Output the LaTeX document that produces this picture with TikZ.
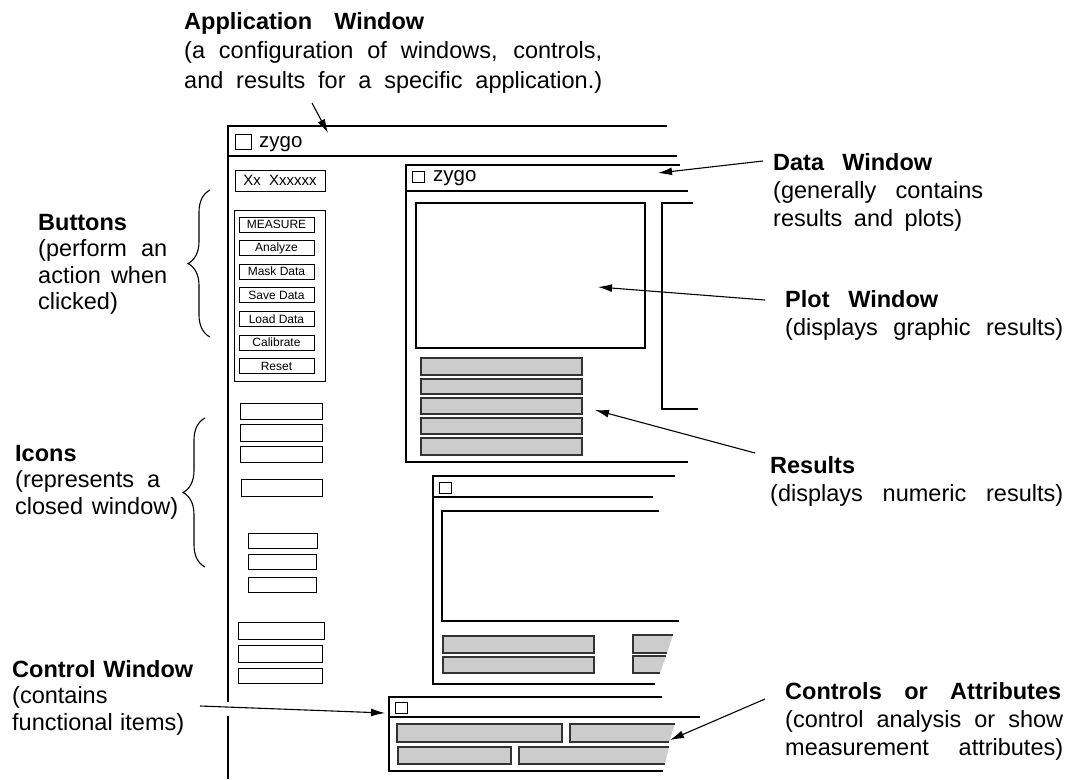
\documentclass[tikz,border=0pt]{standalone}
\usepackage{fontspec}
\setmainfont{Liberation Sans}
\usetikzlibrary{arrows.meta, positioning, decorations.pathreplacing}

\newcommand{\spread}[2]{\makebox[#1pt][s]{#2}}

\begin{document}
\begin{tikzpicture}[
    x=1pt, y=-1pt,
    lbl/.style={anchor=north west, inner sep=0pt, align=left,
        font=\fontsize{23.5}{28}\selectfont},
    lblleft/.style={lbl, font=\fontsize{23.5}{26.5}\selectfont},
    frame/.style={line width=2pt},
    thin/.style={line width=1.1pt},
    btn/.style={draw, line width=0.9pt, minimum width=75pt, minimum height=15pt,
        inner sep=0pt, font=\fontsize{12}{12}\selectfont},
    box/.style={draw, line width=1pt},
    bar/.style={draw=black!80, line width=1.3pt, fill=black!20},
    pointer/.style={line width=1.1pt, -{Latex[length=14pt, width=8pt]}},
    curly/.style={line width=1.1pt, decorate, decoration={brace, amplitude=22pt}}
]
    \useasboundingbox (0,0) rectangle (1068,779);

    % application window
    \draw[line width=2.3pt] (667,126) -- (228,126) -- (228,702);
    \draw[line width=2.3pt] (228,716) -- (228,779);
    \draw[thin] (228,156) -- (677,156);
    \draw[box] (235,134) rectangle (251,149);
    \node[anchor=base west, inner sep=0pt, font=\fontsize{20.5}{22}\selectfont] (appname) at (259,147) {zygo};
    \node[draw, line width=1pt, minimum width=90pt, minimum height=21pt, inner sep=0pt,
        font=\fontsize{15}{16}\selectfont] (apptitle) at (280,180.5) {Xx\ \ Xxxxxx};

    % buttons
    \draw[box] (234,210) rectangle (325,381);
    \foreach \name/\txt [count=\i] in {measure/MEASURE, analyze/Analyze, mask/Mask Data,
        save/Save Data, load/Load Data, calib/Calibrate, reset/Reset}
        \node[btn] (\name) at (276.5,{224.5+23.6*(\i-1)}) {\txt};

    % icons
    \foreach \xa/\ya/\xb/\yb in {240/403/322/419, 240/424/322/441, 240/446/322/462,
        241/479/322/496, 248/533/317/548, 248/554/316/569, 248/577/316/592,
        238/622/324/639, 238/645/322/662, 238/668/322/683}
        \draw[box] (\xa,\ya) rectangle (\xb,\yb);

    % data window
    \draw[frame] (680,165) -- (406,165) -- (406,462) -- (688,462);
    \draw[thin] (406,191) -- (688,191);
    \draw[box] (412,171) rectangle (424,182);
    \node[anchor=base west, inner sep=0pt, font=\fontsize{20.5}{22}\selectfont] (dataname) at (433,181) {zygo};
    \draw[thin] (416,203) rectangle (645,348);
    \draw[thin] (693,203) -- (662,203) -- (662,409) -- (698,409);
    \foreach \ya/\yb in {358/375, 379/394, 398/414, 418/434, 438/455}
        \draw[bar] (421,\ya) rectangle (582,\yb);

    % second data window
    \draw[frame] (675,476) -- (433,476) -- (433,684) -- (655,684);
    \draw[thin] (433,497) -- (653,497);
    \draw[box] (439,482) rectangle (451,493);
    \draw[thin] (659,511) -- (442,511) -- (442,621) -- (679,621);
    \draw[bar] (443,636) rectangle (594,653);
    \draw[bar] (443,657) rectangle (594,673);
    \fill[black!20] (633,635) -- (673,635) -- (667,653) -- (633,653) -- cycle;
    \draw[draw=black!80, line width=1.3pt] (673,635) -- (633,635) -- (633,653) -- (667,653);
    \fill[black!20] (633,656) -- (666,656) -- (660,673) -- (633,673) -- cycle;
    \draw[draw=black!80, line width=1.3pt] (666,656) -- (633,656) -- (633,673) -- (660,673);

    % control window
    \draw[frame] (662,697) -- (389,697) -- (389,771) -- (663,771);
    \draw[thin] (389,717) -- (700,717);
    \draw[box] (395,702) rectangle (407,713);
    \draw[bar] (397,724) rectangle (562,742);
    \fill[black!20] (570,724) -- (675,724) -- (669,742) -- (570,742) -- cycle;
    \draw[draw=black!80, line width=1.3pt] (675,724) -- (570,724) -- (570,742) -- (669,742);
    \draw[bar] (398,747) rectangle (511,764);
    \fill[black!20] (519,747) -- (669,747) -- (665,764) -- (519,764) -- cycle;
    \draw[draw=black!80, line width=1.3pt] (669,747) -- (519,747) -- (519,764) -- (665,764);

    % labels
    \node[lbl, font=\fontsize{23.5}{29.5}\selectfont] (applbl) at (184,12)
        {\spread{240}{\textbf{Application Window}}\\
         \spread{418}{(a configuration of windows, controls,}\\
         \spread{418}{and results for a specific application.)}};
    \node[lbl] (datalbl) at (773,153)
        {\spread{159}{\textbf{Data Window}}\\
         \spread{210}{(generally contains}\\
         \spread{189}{results and plots)}};
    \node[lbl] (plotlbl) at (785,290)
        {\spread{153}{\textbf{Plot Window}}\\
         \spread{278}{(displays graphic results)}};
    \node[lbl] (reslbl) at (770,456)
        {\textbf{Results}\\
         \spread{293}{(displays numeric results)}};
    \node[lbl] (attrlbl) at (785,682)
        {\spread{276}{\textbf{Controls or Attributes}}\\
         \spread{278}{(control analysis or show}\\
         \spread{278}{measurement attributes)}};
    \node[lblleft] (btnlbl) at (38,214)
        {\textbf{Buttons}\\
         \spread{129}{(perform an}\\
         \spread{129}{action when}\\
         clicked)};
    \node[lblleft] (iconlbl) at (15,445)
        {\textbf{Icons}\\
         \spread{145}{(represents a}\\
         \spread{163}{closed window)}};
    \node[lblleft] (ctrllbl) at (12,660)
        {\spread{181}{\textbf{Control Window}}\\
         (contains\\
         \spread{172}{functional items)}};

    % braces
    \draw[curly] (210,337) -- (210,190);
    \draw[curly] (205,567) -- (205,418);

    % pointers
    \coordinate (appfrom) at (312,103);
    \coordinate (appto) at (328,133);
    \coordinate (datafrom) at (763,161);
    \coordinate (datato) at (658,173);
    \coordinate (plotfrom) at (765,300);
    \coordinate (plotto) at (598,287);
    \coordinate (resfrom) at (755,453);
    \coordinate (resto) at (595,410);
    \coordinate (ctrlfrom) at (200,706);
    \coordinate (ctrlto) at (385,713);
    \coordinate (attrfrom) at (765,699);
    \coordinate (attrto) at (670,740);
    \draw[pointer] (appfrom) -- (appto);
    \draw[pointer] (datafrom) -- (datato);
    \draw[pointer] (plotfrom) -- (plotto);
    \draw[pointer] (resfrom) -- (resto);
    \draw[pointer] (ctrlfrom) -- (ctrlto);
    \draw[pointer] (attrfrom) -- (attrto);
\end{tikzpicture}
\end{document}
